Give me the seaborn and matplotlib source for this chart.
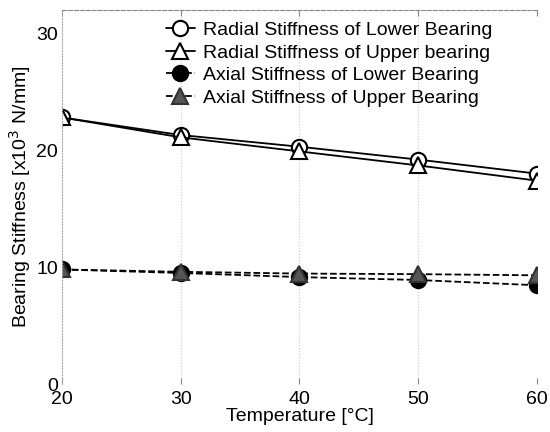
import matplotlib
matplotlib.use("Agg")
import matplotlib.pyplot as plt
import seaborn as sns
import pandas as pd

temperature = [20, 30, 40, 50, 60]
radial_lower = [22.8, 21.3, 20.3, 19.2, 18.0]
radial_upper = [22.8, 21.1, 19.9, 18.7, 17.4]
axial_lower = [9.8, 9.5, 9.15, 8.9, 8.45]
axial_upper = [9.8, 9.6, 9.45, 9.4, 9.3]

labels = ["Radial Stiffness of Lower Bearing",
          "Radial Stiffness of Upper bearing",
          "Axial Stiffness of Lower Bearing",
          "Axial Stiffness of Upper Bearing"]
x_ticks = [20, 30, 40, 50, 60]
y_ticks = [0, 10, 20, 30]

sns.set_style("white")
plt.rcParams['font.family'] = ['Liberation Sans', 'DejaVu Sans']
plt.rcParams['text.color'] = 'black'
plt.rcParams['axes.labelcolor'] = 'black'
plt.rcParams['xtick.color'] = 'black'
plt.rcParams['ytick.color'] = 'black'

fig = plt.figure(figsize=(5.5, 4.32), dpi=100)
ax = fig.add_axes([0.113, 0.111, 0.863, 0.866])

styles = [
    dict(marker='o', mfc='white', mec='black', ls='-', ms=11),
    dict(marker='^', mfc='white', mec='black', ls='-', ms=11),
    dict(marker='o', mfc='black', mec='black', ls='--', ms=11),
    dict(marker='^', mfc='#555555', mec='#333333', ls='--', ms=11),
]
series = [radial_lower, radial_upper, axial_lower, axial_upper]
for vals, lab, st in zip(series, labels, styles):
    sns.lineplot(x=temperature, y=vals, ax=ax, color='black', lw=1.3,
                 linestyle=st['ls'], marker=st['marker'],
                 markerfacecolor=st['mfc'], markeredgecolor=st['mec'],
                 markeredgewidth=1.5, markersize=st['ms'], label=lab)

ax.set_xlim(20, 60)
ax.set_ylim(0, 32)
ax.set_xticks(x_ticks)
ax.set_yticks(y_ticks)
ax.tick_params(axis='both', labelsize=14, direction='in', length=4,
               color='#888888', labelcolor='black', pad=3)
ax.tick_params(axis='x', top=True, bottom=True, pad=5)
ax.grid(True, axis='x', ls=':', color='#cccccc', lw=0.8)
ax.grid(False, axis='y')

for side in ['right', 'bottom']:
    ax.spines[side].set_visible(False)
ax.spines['left'].set_linestyle(':')
ax.spines['left'].set_color('#aaaaaa')
ax.spines['top'].set_linestyle('--')
ax.spines['top'].set_color('#888888')

ax.set_xlabel("Temperature [°C]", fontsize=14, labelpad=0, color='black')
ax.set_ylabel("Bearing Stiffness [x10$^3$ N/mm]", fontsize=14, labelpad=2,
              color='black')

leg = ax.legend(loc='upper right', frameon=False, fontsize=14,
                handlelength=1.5, handletextpad=0.4, labelspacing=0.25,
                borderaxespad=0.2, bbox_to_anchor=(0.93, 1.0))
for t in leg.get_texts():
    t.set_color('black')

fig.savefig("out.png", dpi=100)
